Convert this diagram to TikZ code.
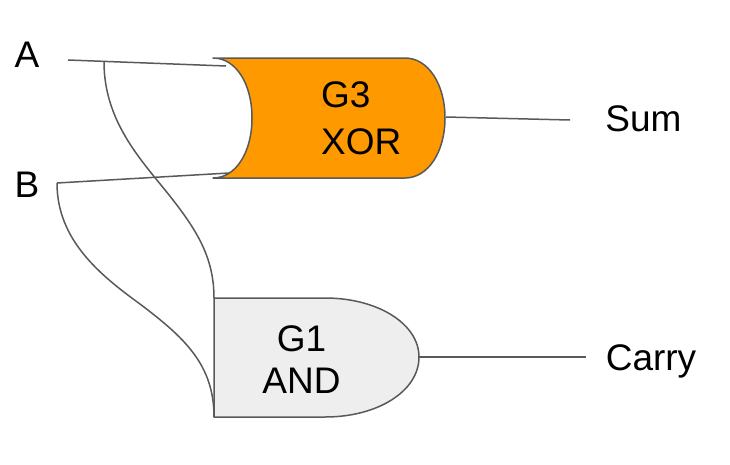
\documentclass[tikz,border=0pt]{standalone}
\usepackage{fontspec}
\setmainfont{Liberation Sans}
\definecolor{wire}{HTML}{595959}
\definecolor{xorfill}{HTML}{FF9900}
\definecolor{andfill}{HTML}{EEEEEE}
\tikzset{
  wireline/.style={draw=wire,line width=1.5pt},
  gatebody/.style={draw=wire,line width=1.5pt,line join=round},
  lbl/.style={font=\fontsize{37}{42}\selectfont,text=black,inner sep=0pt,anchor=base}
}
\begin{document}
\begin{tikzpicture}[x=1pt,y=-1pt]
\useasboundingbox (0,0) rectangle (730,464);
% gates
\draw[gatebody,fill=xorfill] (213,58) -- (405,58)
  .. controls (428,58) and (445,84) .. (445,118)
  .. controls (445,152) and (428,178) .. (405,178)
  -- (213,178)
  .. controls (236,178) and (252,152) .. (252,118)
  .. controls (252,84) and (236,58) .. (213,58) -- cycle;
\draw[gatebody,fill=andfill] (214,298) -- (325,298)
  .. controls (378,298) and (419,324) .. (419,357)
  .. controls (419,391) and (378,417) .. (325,417)
  -- (214,417) -- cycle;
% terminals
\coordinate (a0) at (68,60);
\coordinate (aj) at (104,62);
\coordinate (ax) at (226,66);
\coordinate (b0) at (57,183);
\coordinate (bx) at (229,173);
\coordinate (g1a) at (214,298);
\coordinate (g1b) at (214,417);
\coordinate (xo) at (446,117);
\coordinate (so) at (570,120);
\coordinate (ao) at (419,357);
\coordinate (co) at (586,357);
% labels
\node[lbl] (A) at (27,67) {A};
\node[lbl] (B) at (27,197) {B};
\node[lbl] (Sum) at (643.5,131) {Sum};
\node[lbl] (Carry) at (651,370) {Carry};
\node[lbl,anchor=base west] (G3a) at (321,107) {G3};
\node[lbl,anchor=base west] (G3b) at (321,154) {XOR};
\node[lbl] (G1a) at (301.5,351) {G1};
\node[lbl] (G1b) at (301.5,393) {AND};
% wires
\draw[wireline] (a0) -- (ax);
\draw[wireline] (b0) -- (bx);
\draw[wireline] (xo) -- (so);
\draw[wireline] (ao) -- (co);
\draw[wireline] (aj) .. controls (104,125) and (146,165) .. (173,200)
  .. controls (197,231) and (214,258) .. (g1a);
\draw[wireline] (b0) .. controls (57,240) and (100,275) .. (140,304)
  .. controls (185,338) and (214,365) .. (g1b);
\end{tikzpicture}
\end{document}
